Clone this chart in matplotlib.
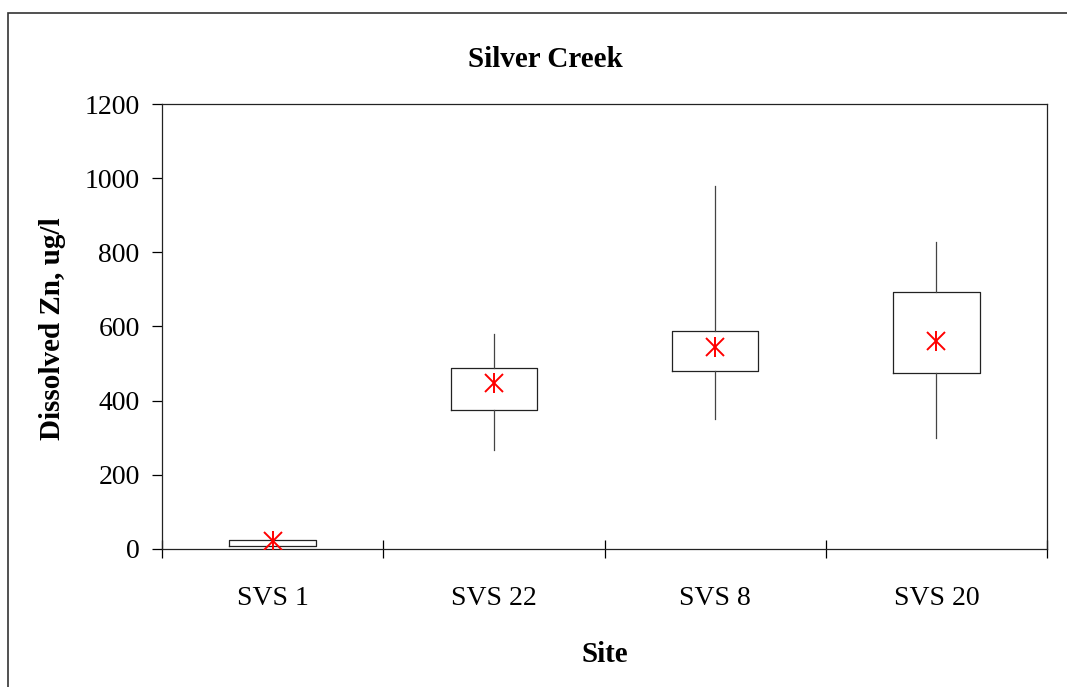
import matplotlib
matplotlib.use("Agg")
import matplotlib.pyplot as plt
from matplotlib.patches import Rectangle

plt.rcParams["font.family"] = ["Liberation Serif", "DejaVu Serif"]

sites = ["SVS 1", "SVS 22", "SVS 8", "SVS 20"]
whisker_low = [8, 267, 351, 298]
box_low = [8, 375, 479, 474]
box_high = [24, 489, 589, 694]
whisker_high = [24, 580, 980, 827]
means = [21, 448, 546, 561]

stats = []
for i, name in enumerate(sites):
    stats.append({
        "label": name,
        "whislo": whisker_low[i],
        "q1": box_low[i],
        "med": (box_low[i] + box_high[i]) / 2,
        "q3": box_high[i],
        "whishi": whisker_high[i],
        "fliers": [],
    })

fig = plt.figure(figsize=(10.67, 6.87), dpi=100)
ax = fig.add_axes([0.1518, 0.2009, 0.8295, 0.6477])

pos = list(range(len(sites)))
ax.bxp(stats, positions=pos, widths=0.39, showcaps=False, showfliers=False,
       boxprops=dict(color="#222222", linewidth=0.9),
       whiskerprops=dict(color="#444444", linewidth=0.9),
       medianprops=dict(linewidth=0))

ax.plot(pos, means, linestyle="none", marker="x", color="red",
        markersize=13, markeredgewidth=1.4, zorder=5)
ax.plot(pos, means, linestyle="none", marker="|", color="red",
        markersize=14, markeredgewidth=1.4, zorder=5)

ax.set_xlim(-0.5, len(sites) - 0.5)
ax.set_ylim(0, 1200)
ax.set_yticks(range(0, 1201, 200))

ax.set_xticks([p - 0.5 for p in range(len(sites) + 1)])
ax.set_xticklabels([])
ax.set_xticks(pos, minor=True)
ax.set_xticklabels(sites, minor=True)
ax.tick_params(axis="x", which="major", direction="inout", length=13, width=0.9)
ax.tick_params(axis="x", which="minor", length=0, pad=27, labelsize=20)
ax.tick_params(axis="y", direction="out", length=7, width=0.9, labelsize=20, pad=9)

for s in ax.spines.values():
    s.set_linewidth(0.9)
    s.set_color("#222222")

fig.text(0.511, 0.914, "Silver Creek", ha="center", va="center",
         fontsize=21, fontweight="bold")
fig.text(0.567, 0.0466, "Site", ha="center", va="center",
         fontsize=21, fontweight="bold")
fig.text(0.049, 0.521, "Dissolved Zn, ug/l", ha="center", va="center",
         rotation=90, fontsize=21, fontweight="bold")

fig.patches.append(Rectangle((8 / 1067, -0.1), 1.2, 1 - 13 / 687 + 0.1,
                             transform=fig.transFigure, fill=False,
                             edgecolor="#333333", linewidth=1.2))

fig.savefig("out.png", dpi=100)
